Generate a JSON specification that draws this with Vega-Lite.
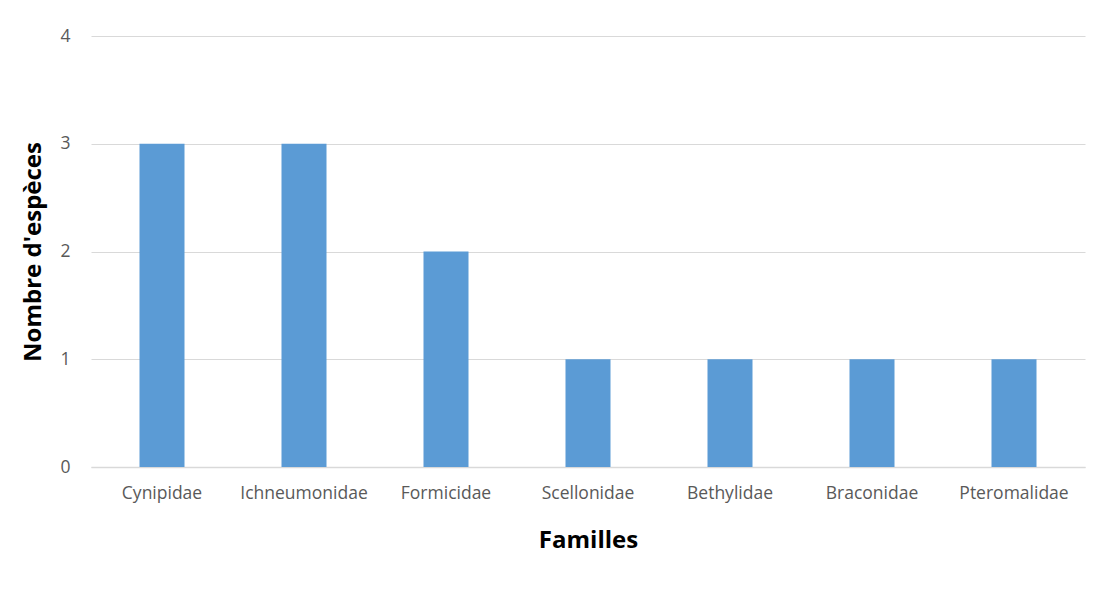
{
  "$schema": "https://vega.github.io/schema/vega-lite/v6.json",
  "autosize": "none",
  "width": 994,
  "height": 431,
  "padding": {"left": 91, "top": 36, "right": 11, "bottom": 148},
  "background": "white",
  "config": {
    "view": {"stroke": null},
    "font": "Open Sans"
  },
  "data": {
    "values": [
      {"famille": "Cynipidae", "n": 3},
      {"famille": "Ichneumonidae", "n": 3},
      {"famille": "Formicidae", "n": 2},
      {"famille": "Scellonidae", "n": 1},
      {"famille": "Bethylidae", "n": 1},
      {"famille": "Braconidae", "n": 1},
      {"famille": "Pteromalidae", "n": 1}
    ]
  },
  "mark": {"type": "bar", "color": "#5b9bd5"},
  "encoding": {
    "x": {
      "field": "famille",
      "type": "nominal",
      "sort": null,
      "scale": {"paddingInner": 0.683, "paddingOuter": 0.3415},
      "axis": {
        "title": "Familles",
        "titleFont": "Open Sans",
        "titleFontSize": 24,
        "titleFontWeight": "bold",
        "titleColor": "#000000",
        "titlePadding": 27,
        "labelAngle": 0,
        "labelFont": "Open Sans",
        "labelFontSize": 17.5,
        "labelColor": "#595959",
        "labelPadding": 17,
        "ticks": false,
        "domainColor": "#d9d9d9",
        "domainWidth": 1.5
      }
    },
    "y": {
      "field": "n",
      "type": "quantitative",
      "scale": {"domain": [0, 4]},
      "axis": {
        "title": "Nombre d'espèces",
        "titleFont": "Open Sans",
        "titleFontSize": 24,
        "titleFontWeight": "bold",
        "titleColor": "#000000",
        "titlePadding": 14,
        "values": [0, 1, 2, 3, 4],
        "format": "d",
        "labelFont": "Open Sans",
        "labelFontSize": 17.5,
        "labelColor": "#595959",
        "labelPadding": 21,
        "ticks": false,
        "domain": false,
        "gridColor": "#d9d9d9",
        "gridWidth": 1.2
      }
    }
  }
}
